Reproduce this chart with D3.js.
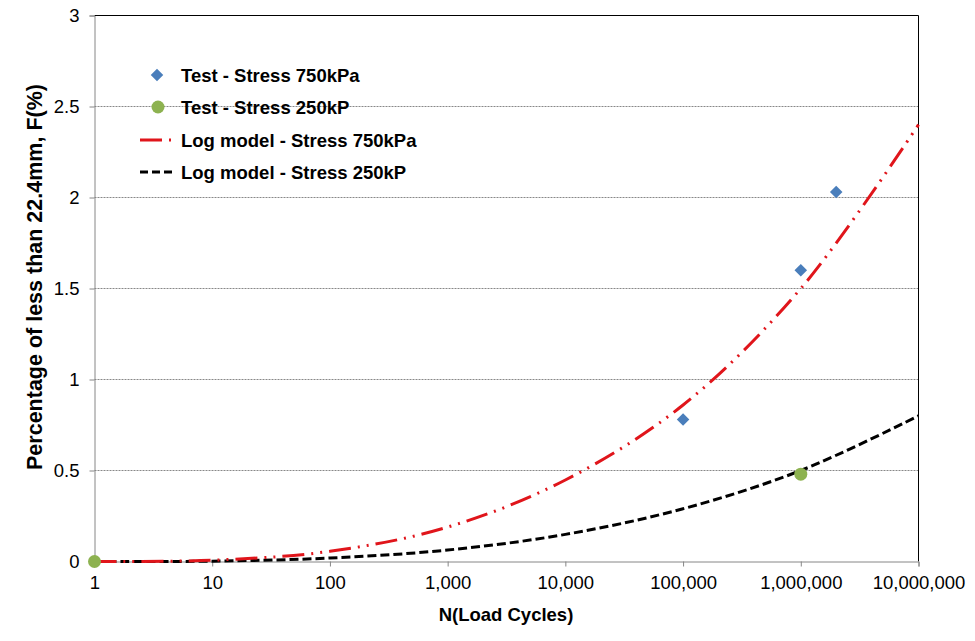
<!DOCTYPE html>
<html><head><meta charset="utf-8">
<script src="https://cdn.jsdelivr.net/npm/d3@7"></script>
<style>body{margin:0;background:#fff}svg{display:block}text{font-family:"Liberation Sans",Arial,sans-serif}</style>
</head><body>
<svg id="c" width="975" height="641"></svg>
<script>
const modelN = [1, 10, 100, 1000, 10000, 100000, 1000000, 10000000];
const model750 = [0, 0.007, 0.056, 0.189, 0.448, 0.86, 1.5, 2.40];
const model250 = [0, 0.002, 0.019, 0.063, 0.149, 0.29, 0.5, 0.80];
const test750N = [100000, 1000000, 2000000];
const test750 = [0.78, 1.60, 2.03];
const test250N = [1, 1000000];
const test250 = [0, 0.48];
const xTicks = [1, 10, 100, 1000, 10000, 100000, 1000000, 10000000];
const yTicks = [0, 0.5, 1, 1.5, 2, 2.5, 3];
const legendLabels = ["Test - Stress 750kPa", "Test - Stress 250kP", "Log model - Stress 750kPa", "Log model - Stress 250kP"];

const svg = d3.select("#c");
const L = 94.5, R = 918.5, T = 15.5, B = 561.5;
const x = d3.scaleLog().domain([1, 1e7]).range([L, R]);
const y = d3.scaleLinear().domain([0, 3]).range([B, T]);
const FS = "18.5px";

// gridlines
svg.append("g").selectAll("line").data(yTicks.filter(d => d > 0 && d < 3)).join("line")
  .attr("x1", L).attr("x2", R).attr("y1", d => y(d)).attr("y2", d => y(d))
  .attr("stroke", "#888").attr("stroke-width", 1).attr("stroke-dasharray", "2,1");

// frame top/right
svg.append("line").attr("x1", L).attr("x2", R).attr("y1", T).attr("y2", T).attr("stroke", "#000");
svg.append("line").attr("x1", R).attr("x2", R).attr("y1", T).attr("y2", B).attr("stroke", "#000");

// axes
const fmt = d3.format(",");
const xAxis = svg.append("g").attr("transform", `translate(0,${B})`)
  .call(d3.axisBottom(x).tickValues(xTicks).tickFormat(d => fmt(d)).tickSize(5).tickPadding(8));
const yAxis = svg.append("g").attr("transform", `translate(${L},0)`)
  .call(d3.axisLeft(y).tickValues(yTicks).tickFormat(d => d).tickSize(5).tickPadding(10));
[xAxis, yAxis].forEach(a => {
  a.select(".domain").attr("stroke", "#868686");
  a.selectAll(".tick line").attr("stroke", "#868686");
  a.selectAll(".tick text").attr("fill", "#000").style("font-size", FS).style("font-family", '"Liberation Sans",Arial,sans-serif');
});
xAxis.selectAll(".tick text").attr("dy", "0.8em");
yAxis.selectAll(".tick text").attr("dx", "0");

// titles
svg.append("text").attr("x", 506).attr("y", 621).attr("text-anchor", "middle")
  .style("font-size", FS).style("font-weight", "bold").text("N(Load Cycles)");
svg.append("text").attr("transform", "translate(42,277) rotate(-90)").attr("text-anchor", "middle")
  .style("font-size", "21.5px").style("font-weight", "bold").text("Percentage of less than 22.4mm, F(%)");

// model lines
const line = d3.line().x(d => x(d[0])).y(d => y(d[1])).curve(d3.curveCatmullRom.alpha(0.5));
const redDash = "22,7,2,7,2,7";
svg.append("path").datum(modelN.map((n, i) => [n, model250[i]])).attr("d", line)
  .attr("fill", "none").attr("stroke", "#000").attr("stroke-width", 3).attr("stroke-dasharray", "9,4");
svg.append("path").datum(modelN.map((n, i) => [n, model750[i]])).attr("d", line)
  .attr("fill", "none").attr("stroke", "#e0151b").attr("stroke-width", 3).attr("stroke-dasharray", redDash);

// markers
const diamond = d3.symbol().type(d3.symbolDiamond2).size(100);
svg.append("g").selectAll("path").data(test750N.map((n, i) => [n, test750[i]])).join("path")
  .attr("d", diamond).attr("transform", d => `translate(${x(d[0])},${y(d[1])})`).attr("fill", "#4a7ebb");
svg.append("g").selectAll("circle").data(test250N.map((n, i) => [n, test250[i]])).join("circle")
  .attr("cx", d => x(d[0])).attr("cy", d => y(d[1])).attr("r", 6.5).attr("fill", "#8db250");

// legend
const lg = svg.append("g");
const rowY = [75, 107, 140, 172];
lg.append("path").attr("d", diamond).attr("transform", `translate(157,${rowY[0]})`).attr("fill", "#4a7ebb");
lg.append("circle").attr("cx", 158).attr("cy", rowY[1]).attr("r", 6.5).attr("fill", "#8db250");
lg.append("line").attr("x1", 140).attr("x2", 175).attr("y1", rowY[2]).attr("y2", rowY[2])
  .attr("stroke", "#e0151b").attr("stroke-width", 3).attr("stroke-dasharray", redDash);
lg.append("line").attr("x1", 140).attr("x2", 174).attr("y1", rowY[3]).attr("y2", rowY[3])
  .attr("stroke", "#000").attr("stroke-width", 3).attr("stroke-dasharray", "8,4");
lg.selectAll("text").data(legendLabels).join("text")
  .attr("x", 181).attr("y", (d, i) => rowY[i] + 6.5)
  .style("font-size", FS).style("font-weight", "bold").text(d => d);
</script>
</body></html>
